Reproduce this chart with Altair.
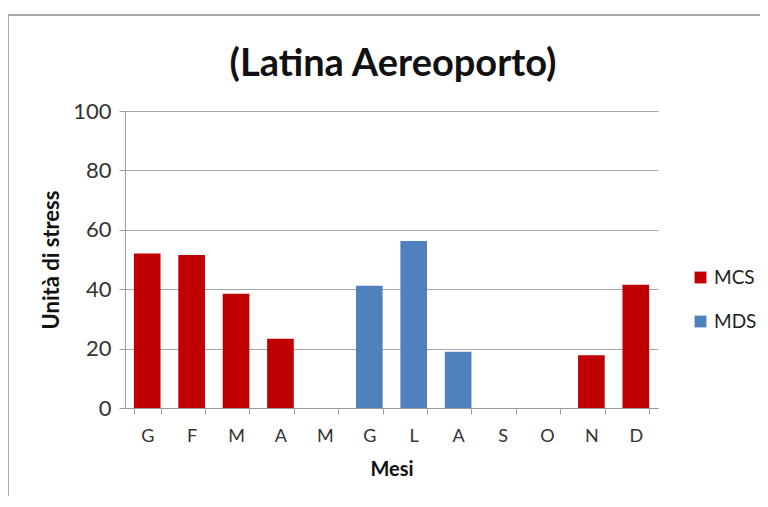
import altair as alt
import pandas as pd

months = ["G", "F", "M", "A", "M", "G", "L", "A", "S", "O", "N", "D"]
mcs = [52, 51.5, 38.5, 23.3, None, None, None, None, None, None, 17.8, 41.5]
mds = [None, None, None, None, None, 41.2, 56.2, 18.9, None, None, None, None]
title_text = "(Latina Aereoporto)"

rows = []
for i, m in enumerate(months):
    if mcs[i] is not None:
        rows.append({"idx": i, "mese": m, "serie": "MCS", "valore": mcs[i]})
    if mds[i] is not None:
        rows.append({"idx": i, "mese": m, "serie": "MDS", "valore": mds[i]})
df = pd.DataFrame(rows)

label_expr = "[" + ",".join("'%s'" % m for m in months) + "][datum.value]"

FONT = "Lato"

bars = alt.Chart(df).mark_bar().encode(
    x=alt.X("idx:O",
            scale=alt.Scale(domain=list(range(12)), paddingInner=0.4, paddingOuter=0.2),
            axis=alt.Axis(title="Mesi", labelExpr=label_expr, labelAngle=0,
                          tickBand="extent", labelPadding=13, titlePadding=14,
                          labelFontSize=18, titleFontSize=20)),
    y=alt.Y("valore:Q", scale=alt.Scale(domain=[0, 100]),
            axis=alt.Axis(title="Unità di stress", values=[0, 20, 40, 60, 80, 100],
                          labelPadding=8, titlePadding=9,
                          labelFontSize=22, titleFontSize=22)),
    color=alt.Color("serie:N",
                    scale=alt.Scale(domain=["MCS", "MDS"], range=["#C00000", "#4F81BD"]),
                    legend=alt.Legend(title=None, orient="none", legendX=566, legendY=157,
                                      symbolType="square", symbolSize=140,
                                      labelFontSize=19, rowPadding=24,
                                      symbolStrokeWidth=0)),
)

one = alt.Data(values=[{}])
frame_top = alt.Chart(one).mark_rule(color="#a8a8a8", strokeWidth=2).encode(
    x=alt.value(-117), x2=alt.value(680), y=alt.value(-96))
frame_left = alt.Chart(one).mark_rule(color="#a8a8a8", strokeWidth=2).encode(
    x=alt.value(-117), y=alt.value(-96), y2=alt.value(392))
title = alt.Chart(one).mark_text(
    fontSize=38, fontWeight="bold", font=FONT, color="#111111",
    align="center", baseline="alphabetic").encode(
    x=alt.value(268), y=alt.value(-35), text=alt.value(title_text))

chart = alt.layer(frame_top, frame_left, title, bars).properties(
    width=533, height=297,
    autosize=alt.AutoSizeParams(type="none"),
    padding={"left": 117, "top": 103, "right": 102, "bottom": 88},
).configure_view(stroke=None).configure_axis(
    labelFont=FONT, titleFont=FONT, labelColor="#333333", titleColor="#111111",
    titleFontWeight="bold", gridColor="#a6a6a6", domainColor="#9a9a9a",
    tickColor="#9a9a9a", tickSize=6,
).configure_axisX(grid=False).configure_legend(
    labelFont=FONT, labelColor="#222222"
)

chart.save("out.html", embed_options={"renderer": "svg", "actions": False})
